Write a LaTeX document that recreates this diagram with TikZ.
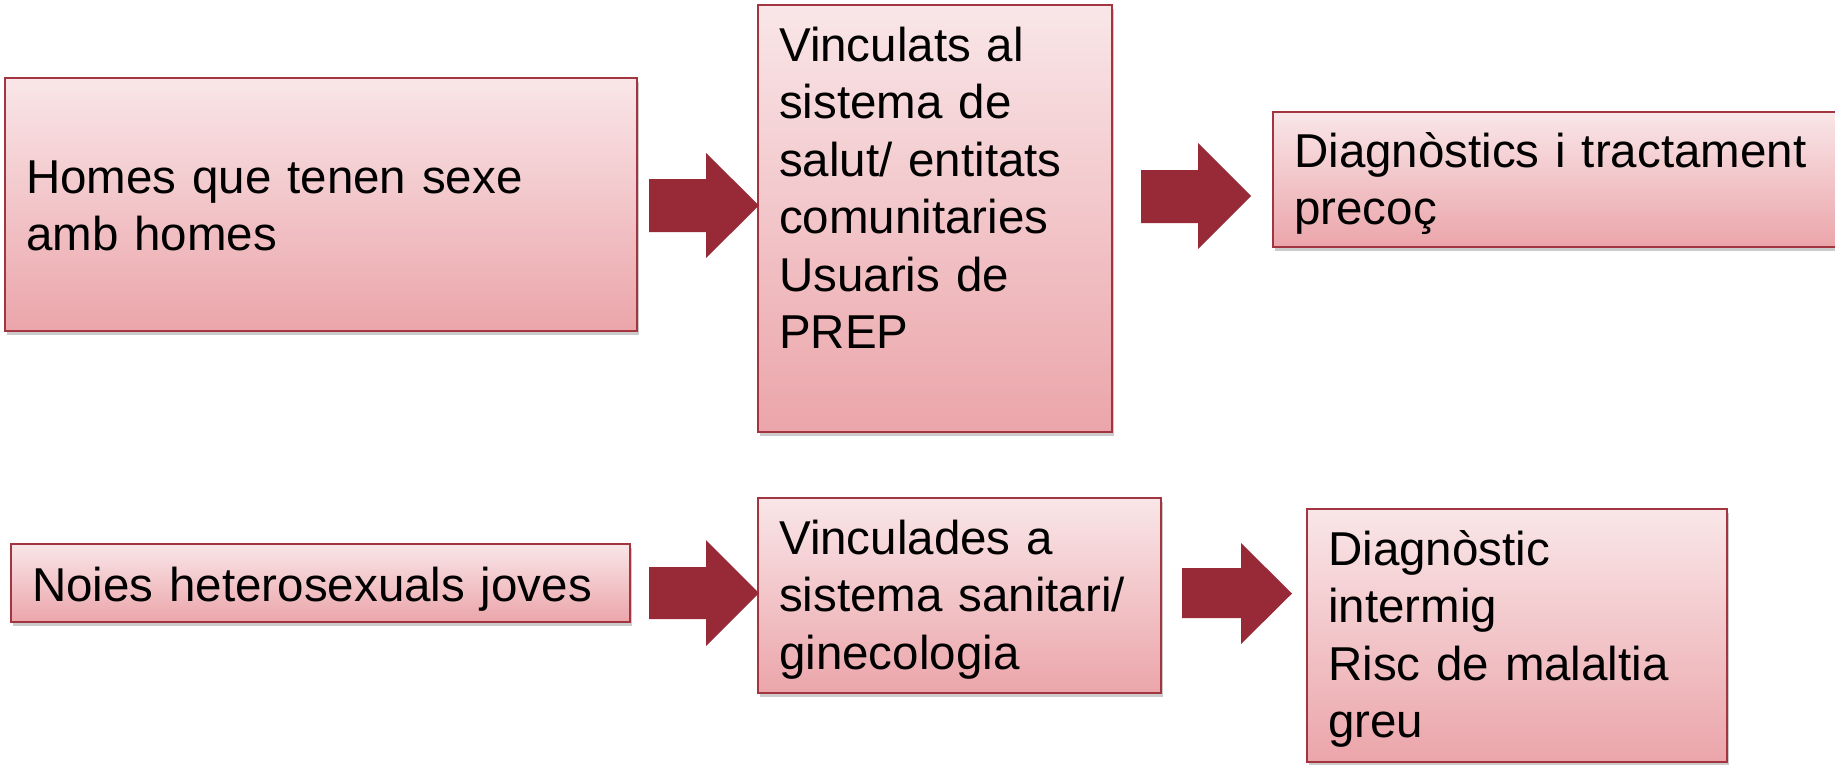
\documentclass[tikz,border=0pt]{standalone}
\usepackage{fontspec}
\setmainfont{Liberation Sans}
\usetikzlibrary{shadows}
\definecolor{boxtop}{HTML}{F9E6E8}
\definecolor{boxbot}{HTML}{EBA5AA}
\definecolor{boxline}{HTML}{A33540}
\definecolor{arrowred}{HTML}{982937}
\tikzset{
  pinkbox/.style={draw=boxline, line width=1.6pt, top color=boxtop, bottom color=boxbot,
    drop shadow={shadow xshift=2pt, shadow yshift=-4pt, fill=black!45, opacity=0.45}},
  boxtext/.style={anchor=base west, inner sep=0pt, text width=560pt, align=left,
    font={\fontsize{47.5}{57.5}\selectfont}},
  blockarrow/.style={fill=arrowred, draw=none}
}
\begin{document}
\begin{tikzpicture}[x=1pt,y=-1pt]
\useasboundingbox (0,0) rectangle (1835,764);
% boxes
\path[pinkbox] (5,78) rectangle (637,331);
\path[pinkbox] (758,5) rectangle (1112,432);
\path[pinkbox] (1273,112) rectangle (1840,247);
\path[pinkbox] (11,544) rectangle (630,622);
\path[pinkbox] (758,498) rectangle (1161,693);
\path[pinkbox] (1307,509) rectangle (1727,762);
% texts
\node[boxtext] (t1) at (26,193) {Homes que tenen sexe\\amb homes};
\node[boxtext] (t2) at (779,61) {Vinculats al\\sistema de\\salut/ entitats\\comunitaries\\Usuaris de\\PREP};
\node[boxtext] (t3) at (1294,167) {Diagnòstics i tractament\\precoç};
\node[boxtext] (t4) at (32,601) {Noies heterosexuals joves};
\node[boxtext] (t5) at (779,554) {Vinculades a\\sistema sanitari/\\ginecologia};
\node[boxtext] (t6) at (1328,565) {Diagnòstic\\intermig\\Risc de malaltia\\greu};
% block arrows
\fill[blockarrow] (649,179) -- (706,179) -- (706,153) -- (759,205.5) -- (706,258) -- (706,232) -- (649,232) -- cycle;
\fill[blockarrow] (1141,170) -- (1198,170) -- (1198,143) -- (1251,196) -- (1198,249) -- (1198,223) -- (1141,223) -- cycle;
\fill[blockarrow] (649,567) -- (706,567) -- (706,540) -- (759,593) -- (706,646) -- (706,619) -- (649,619) -- cycle;
\fill[blockarrow] (1182,568) -- (1241,568) -- (1241,543) -- (1292,593.5) -- (1241,644) -- (1241,618) -- (1182,618) -- cycle;
\end{tikzpicture}
\end{document}
